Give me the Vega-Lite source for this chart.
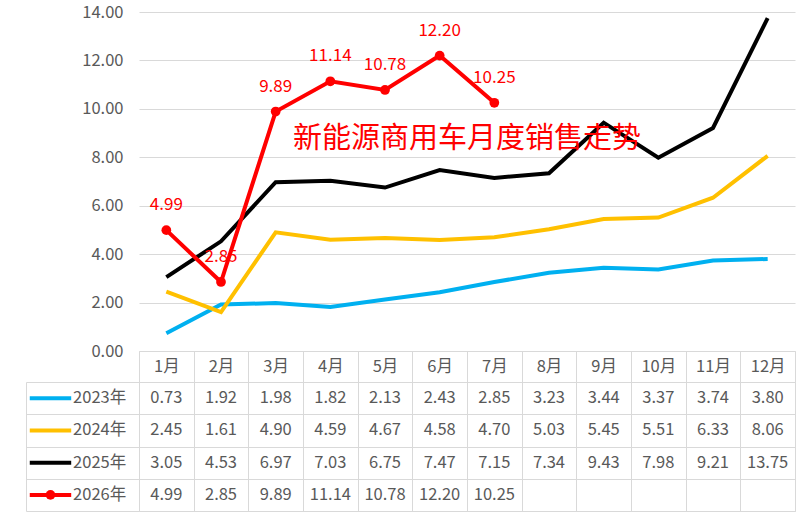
{
  "$schema": "https://vega.github.io/schema/vega-lite/v6.json",
  "background": "white",
  "padding": {"left": 26, "top": 4, "right": 2, "bottom": 2},
  "config": {
    "font": "Noto Sans CJK SC",
    "view": {"stroke": null},
    "axis": {"labelFont": "Noto Sans CJK SC", "labelColor": "#595959", "labelFontSize": 16.5}
  },
  "datasets": {
    "vals": [
      {"series": "2023年", "month": "1月", "value": 0.73},
      {"series": "2023年", "month": "2月", "value": 1.92},
      {"series": "2023年", "month": "3月", "value": 1.98},
      {"series": "2023年", "month": "4月", "value": 1.82},
      {"series": "2023年", "month": "5月", "value": 2.13},
      {"series": "2023年", "month": "6月", "value": 2.43},
      {"series": "2023年", "month": "7月", "value": 2.85},
      {"series": "2023年", "month": "8月", "value": 3.23},
      {"series": "2023年", "month": "9月", "value": 3.44},
      {"series": "2023年", "month": "10月", "value": 3.37},
      {"series": "2023年", "month": "11月", "value": 3.74},
      {"series": "2023年", "month": "12月", "value": 3.80},
      {"series": "2024年", "month": "1月", "value": 2.45},
      {"series": "2024年", "month": "2月", "value": 1.61},
      {"series": "2024年", "month": "3月", "value": 4.90},
      {"series": "2024年", "month": "4月", "value": 4.59},
      {"series": "2024年", "month": "5月", "value": 4.67},
      {"series": "2024年", "month": "6月", "value": 4.58},
      {"series": "2024年", "month": "7月", "value": 4.70},
      {"series": "2024年", "month": "8月", "value": 5.03},
      {"series": "2024年", "month": "9月", "value": 5.45},
      {"series": "2024年", "month": "10月", "value": 5.51},
      {"series": "2024年", "month": "11月", "value": 6.33},
      {"series": "2024年", "month": "12月", "value": 8.06},
      {"series": "2025年", "month": "1月", "value": 3.05},
      {"series": "2025年", "month": "2月", "value": 4.53},
      {"series": "2025年", "month": "3月", "value": 6.97},
      {"series": "2025年", "month": "4月", "value": 7.03},
      {"series": "2025年", "month": "5月", "value": 6.75},
      {"series": "2025年", "month": "6月", "value": 7.47},
      {"series": "2025年", "month": "7月", "value": 7.15},
      {"series": "2025年", "month": "8月", "value": 7.34},
      {"series": "2025年", "month": "9月", "value": 9.43},
      {"series": "2025年", "month": "10月", "value": 7.98},
      {"series": "2025年", "month": "11月", "value": 9.21},
      {"series": "2025年", "month": "12月", "value": 13.75},
      {"series": "2026年", "month": "1月", "value": 4.99},
      {"series": "2026年", "month": "2月", "value": 2.85},
      {"series": "2026年", "month": "3月", "value": 9.89},
      {"series": "2026年", "month": "4月", "value": 11.14},
      {"series": "2026年", "month": "5月", "value": 10.78},
      {"series": "2026年", "month": "6月", "value": 12.20},
      {"series": "2026年", "month": "7月", "value": 10.25}
    ],
    "keys": [
      {"series": "2023年"},
      {"series": "2024年"},
      {"series": "2025年"},
      {"series": "2026年"}
    ]
  },
  "bounds": "flush",
  "spacing": 0,
  "resolve": {"scale": {"x": "independent", "y": "independent"}},
  "hconcat": [
    {
      "width": 113,
      "height": 499,
      "data": {"name": "keys"},
      "encoding": {
        "y": {
          "field": "series",
          "type": "nominal",
          "scale": {"type": "band", "domain": ["2023年", "2024年", "2025年", "2026年"], "range": [370, 499], "paddingInner": 0, "paddingOuter": 0},
          "axis": {"title": null, "labels": false, "ticks": false, "domain": true, "domainColor": "#d9d9d9", "grid": true, "tickBand": "extent", "gridColor": "#d9d9d9"}
        }
      },
      "layer": [
        {
          "mark": {"type": "rule", "strokeWidth": 4},
          "encoding": {
            "x": {"datum": 4, "type": "quantitative", "scale": {"domain": [0, 113]}, "axis": null},
            "x2": {"datum": 48},
            "color": {
              "field": "series",
              "type": "nominal",
              "scale": {"domain": ["2023年", "2024年", "2025年", "2026年"], "range": ["#00B0F0", "#FFC000", "#000000", "#FF0000"]},
              "legend": null
            }
          }
        },
        {
          "transform": [{"filter": "datum.series === '2026年'"}],
          "mark": {"type": "point", "filled": true, "size": 95, "opacity": 1, "color": "#FF0000"},
          "encoding": {"x": {"datum": 26, "type": "quantitative"}}
        },
        {
          "mark": {"type": "text", "align": "left", "baseline": "middle", "fontSize": 16.5, "color": "#595959"},
          "encoding": {
            "x": {"datum": 50, "type": "quantitative"},
            "text": {"field": "series"}
          }
        }
      ]
    },
    {
      "bounds": "flush",
      "spacing": 31,
      "resolve": {"scale": {"x": "independent", "y": "independent"}},
      "vconcat": [
        {
          "width": 656,
          "height": 339,
          "title": {
            "text": "新能源商用车月度销售走势",
            "color": "#FF0000",
            "fontSize": 29,
            "fontWeight": "normal",
            "font": "Noto Sans CJK SC",
            "anchor": "middle",
            "frame": "group",
            "baseline": "middle",
            "offset": -164
          },
          "data": {"name": "vals"},
          "encoding": {
            "x": {
              "field": "month",
              "type": "nominal",
              "sort": ["1月", "2月", "3月", "4月", "5月", "6月", "7月", "8月", "9月", "10月", "11月", "12月"],
              "scale": {"type": "band", "paddingInner": 0, "paddingOuter": 0},
              "axis": {
                "title": null,
                "labelAngle": 0,
                "tickBand": "extent",
                "tickSize": 31,
                "tickColor": "#d9d9d9",
                "domainColor": "#d9d9d9",
                "labelPadding": -15.5,
                "labelBaseline": "middle",
                "grid": false
              }
            },
            "y": {
              "field": "value",
              "type": "quantitative",
              "scale": {"domain": [0, 14], "nice": false},
              "axis": {
                "title": null,
                "values": [0, 2, 4, 6, 8, 10, 12, 14],
                "format": ".2f",
                "domain": false,
                "ticks": false,
                "labelPadding": 16,
                "gridColor": "#d9d9d9"
              }
            }
          },
          "layer": [
            {
              "mark": {"type": "line", "strokeWidth": 4},
              "encoding": {
                "color": {
                  "field": "series",
                  "type": "nominal",
                  "scale": {"domain": ["2023年", "2024年", "2025年", "2026年"], "range": ["#00B0F0", "#FFC000", "#000000", "#FF0000"]},
                  "legend": null
                }
              }
            },
            {
              "transform": [{"filter": "datum.series === '2026年'"}],
              "mark": {"type": "point", "filled": true, "size": 95, "opacity": 1, "color": "#FF0000"}
            },
            {
              "transform": [{"filter": "datum.series === '2026年'"}],
              "mark": {"type": "text", "color": "#FF0000", "fontSize": 17, "dy": -25, "baseline": "middle"},
              "encoding": {"text": {"field": "value", "type": "quantitative", "format": ".2f"}}
            }
          ]
        },
        {
          "width": 656,
          "height": 129,
          "view": {"stroke": "#d9d9d9"},
          "data": {"name": "vals"},
          "mark": {"type": "text", "fontSize": 16.5, "color": "#595959", "baseline": "middle"},
          "encoding": {
            "x": {
              "field": "month",
              "type": "nominal",
              "scale": {"type": "band", "domain": ["1月", "2月", "3月", "4月", "5月", "6月", "7月", "8月", "9月", "10月", "11月", "12月"], "paddingInner": 0, "paddingOuter": 0},
              "axis": {"title": null, "labels": false, "ticks": false, "domain": false, "grid": true, "tickBand": "extent", "gridColor": "#d9d9d9"}
            },
            "y": {
              "field": "series",
              "type": "nominal",
              "scale": {"type": "band", "domain": ["2023年", "2024年", "2025年", "2026年"], "paddingInner": 0, "paddingOuter": 0},
              "axis": {"title": null, "labels": false, "ticks": false, "domain": false, "grid": true, "tickBand": "extent", "gridColor": "#d9d9d9"}
            },
            "text": {"field": "value", "type": "quantitative", "format": ".2f"}
          }
        }
      ]
    }
  ]
}
